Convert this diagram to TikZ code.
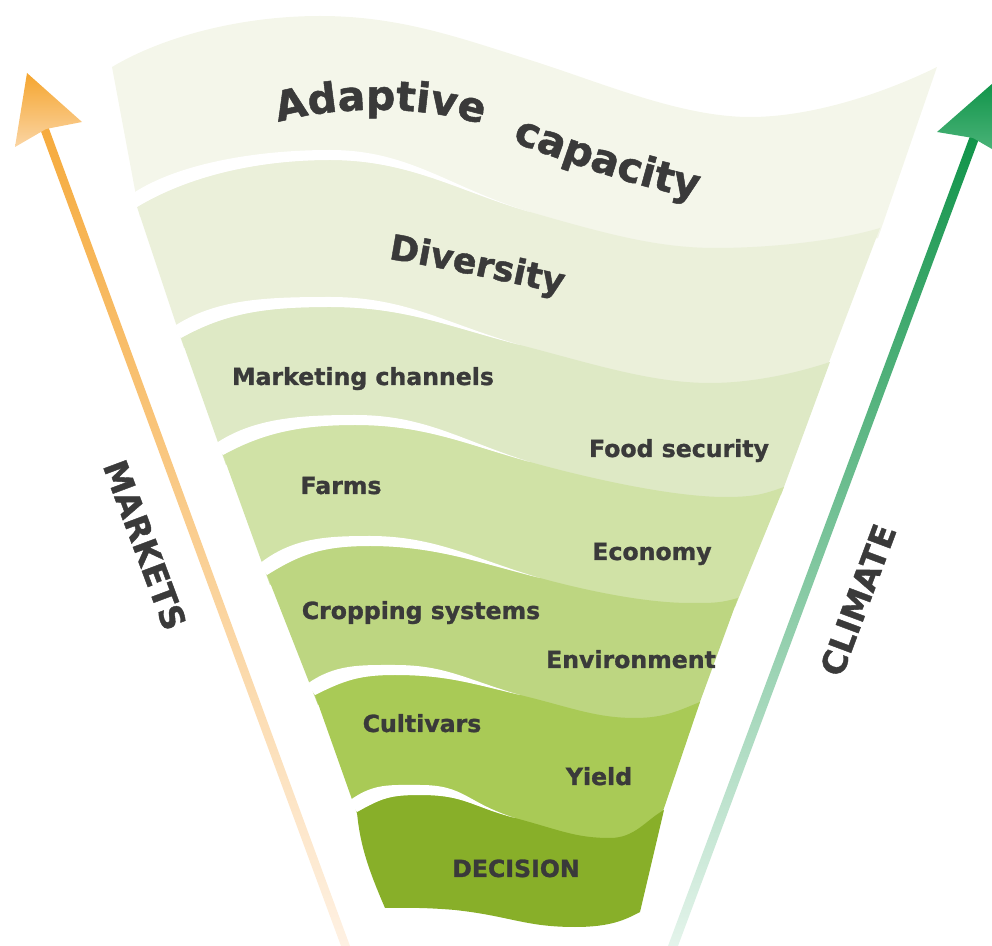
\documentclass[tikz,border=0pt]{standalone}
\usepackage{fontspec}
\setmainfont{DejaVu Sans}[BoldFeatures={FakeBold=1.2}]
\usepackage{tikz}
\usetikzlibrary{decorations.text}

\definecolor{ink}{HTML}{3A3A3A}
\definecolor{bandA}{HTML}{F4F6EA}
\definecolor{bandB}{HTML}{EBF0DA}
\definecolor{bandC}{HTML}{DEE9C5}
\definecolor{bandD}{HTML}{D0E2A6}
\definecolor{bandE}{HTML}{BDD681}
\definecolor{bandF}{HTML}{A9CA56}
\definecolor{bandG}{HTML}{88AF29}
\definecolor{mktDeep}{HTML}{F5A52E}
\definecolor{mktMid}{HTML}{F8C27A}
\definecolor{mktPale}{HTML}{FEF1E3}
\definecolor{cliDeep}{HTML}{11944A}
\definecolor{cliMid}{HTML}{4FB67C}
\definecolor{cliPale}{HTML}{E4F4EB}

\tikzstyle{bandtext}=[font=\fontsize{11.8}{13}\selectfont\bfseries,text=ink,
                      inner sep=0pt,anchor=base]
\tikzstyle{sidetext}=[font=\fontsize{16.5}{18}\selectfont\bfseries,text=ink,
                      inner sep=0pt]
\tikzstyle{whitegap}=[fill=white]
\newcommand{\bigcurve}{\fontsize{20.5}{22}\selectfont\bfseries\color{ink}}
\newcommand{\smallcurve}{\fontsize{17.5}{19}\selectfont\bfseries\color{ink}}

\begin{document}
\begin{tikzpicture}[x=0.5pt,y=-0.5pt]
  \useasboundingbox (0,0) rectangle (992,946);
  \clip (0,0) rectangle (992,946);

  % bands, top to bottom
  \fill[bandA] (112,67) .. controls +(50,-30) and +(-80,0) .. (320,16)
    .. controls +(80,0) and +(-70,-22) .. (530,60)
    .. controls +(70,22) and +(-70,0) .. (750,117)
    .. controls +(70,0) and +(-40,20) .. (937,67)
    -- (878,238)
    .. controls +(-20,5) and +(40,0) .. (715,278)
    .. controls +(-90,0) and +(80,0) .. (330,190)
    .. controls +(-40,0) and +(15,-12) .. (140,217) -- cycle;

  \fill[bandB] (137,207) .. controls +(50,-30) and +(-75,0) .. (330,160)
    .. controls +(80,0) and +(-70,-20) .. (530,212)
    .. controls +(70,20) and +(-60,0) .. (715,248)
    .. controls +(60,0) and +(-40,12) .. (880,228)
    -- (826,370)
    .. controls +(-20,5) and +(40,0) .. (710,413)
    .. controls +(-90,0) and +(80,0) .. (330,337)
    .. controls +(-40,0) and +(15,-12) .. (184,348) -- cycle;
  \path[whitegap] (137,207) .. controls +(50,-30) and +(-75,0) .. (330,160)
    .. controls +(80,0) and +(-70,-20) .. (530,212)
    .. controls +(-80,-24) and +(80,0) .. (330,150)
    .. controls +(-75,0) and +(45,-32) .. (129,196) -- cycle;

  \fill[bandC] (181,338) .. controls +(45,-25) and +(-65,0) .. (330,307)
    .. controls +(75,0) and +(-70,-18) .. (520,345)
    .. controls +(70,18) and +(-60,0) .. (710,383)
    .. controls +(45,0) and +(-30,10) .. (830,362)
    -- (781,495)
    .. controls +(-20,5) and +(30,0) .. (725,527)
    .. controls +(-90,0) and +(70,0) .. (355,455)
    .. controls +(-40,0) and +(15,-12) .. (226,465) -- cycle;
  \path[whitegap] (181,338) .. controls +(45,-25) and +(-65,0) .. (330,307)
    .. controls +(75,0) and +(-70,-18) .. (520,345)
    .. controls +(-75,-22) and +(75,0) .. (330,297)
    .. controls +(-65,0) and +(42,-28) .. (173,327) -- cycle;

  \fill[bandD] (223,455) .. controls +(40,-22) and +(-55,0) .. (355,425)
    .. controls +(70,0) and +(-65,-18) .. (530,462)
    .. controls +(65,18) and +(-50,0) .. (725,497)
    .. controls +(30,0) and +(-20,7) .. (784,487)
    -- (735,607)
    .. controls +(-15,5) and +(25,0) .. (690,633)
    .. controls +(-90,0) and +(60,0) .. (370,576)
    .. controls +(-40,0) and +(15,-12) .. (270,585) -- cycle;
  \path[whitegap] (223,455) .. controls +(40,-22) and +(-55,0) .. (355,425)
    .. controls +(70,0) and +(-65,-18) .. (530,462)
    .. controls +(-70,-22) and +(70,0) .. (355,415)
    .. controls +(-55,0) and +(38,-26) .. (215,444) -- cycle;

  \fill[bandE] (267,575) .. controls +(35,-22) and +(-45,0) .. (370,546)
    .. controls +(65,0) and +(-60,-15) .. (540,578)
    .. controls +(55,15) and +(-40,0) .. (690,603)
    .. controls +(25,0) and +(-18,5) .. (738,598)
    -- (697,710)
    .. controls +(-15,5) and +(25,0) .. (635,748)
    .. controls +(-80,0) and +(50,0) .. (395,705)
    .. controls +(-35,0) and +(12,-10) .. (318,705) -- cycle;
  \path[whitegap] (267,575) .. controls +(35,-22) and +(-45,0) .. (370,546)
    .. controls +(65,0) and +(-60,-15) .. (540,578)
    .. controls +(-65,-19) and +(65,0) .. (370,536)
    .. controls +(-45,0) and +(33,-26) .. (259,564) -- cycle;

  \fill[bandF] (315,695) .. controls +(30,-15) and +(-35,0) .. (395,675)
    .. controls +(50,0) and +(-50,-12) .. (520,695)
    .. controls +(50,12) and +(-40,0) .. (635,718)
    .. controls +(30,0) and +(-20,8) .. (700,702)
    -- (660,820)
    .. controls +(-15,5) and +(25,0) .. (610,866)
    .. controls +(-80,0) and +(45,0) .. (420,825)
    .. controls +(-30,0) and +(10,-8) .. (360,822) -- cycle;
  \path[whitegap] (315,695) .. controls +(30,-15) and +(-35,0) .. (395,675)
    .. controls +(50,0) and +(-50,-12) .. (520,695)
    .. controls +(-55,-16) and +(50,0) .. (395,665)
    .. controls +(-35,0) and +(28,-20) .. (307,684) -- cycle;

  \fill[bandG] (357,812) .. controls +(25,-14) and +(-30,0) .. (420,795)
    .. controls +(45,0) and +(-45,-12) .. (515,818)
    .. controls +(45,12) and +(-35,0) .. (610,838)
    .. controls +(25,0) and +(-18,10) .. (664,810)
    -- (640,912)
    .. controls +(-15,8) and +(35,0) .. (575,927)
    .. controls +(-50,0) and +(55,6) .. (455,910)
    .. controls +(-35,-3) and +(15,0) .. (385,908)
    .. controls +(-15,-35) and +(3,35) .. (357,812) -- cycle;
  \path[whitegap] (357,812) .. controls +(25,-14) and +(-30,0) .. (420,795)
    .. controls +(45,0) and +(-45,-12) .. (515,818)
    .. controls +(-50,-16) and +(45,0) .. (420,785)
    .. controls +(-30,0) and +(24,-18) .. (349,801) -- cycle;

  % curved titles
  \path[decorate,decoration={text along path,text align=center,
        text={|\bigcurve|Adaptive}}]
    (250,132) .. controls (320,102) and (440,102) .. (510,135);
  \path[decorate,decoration={text along path,text align=center,
        text={|\bigcurve|capacity}}]
    (490,133) .. controls (560,160) and (640,190) .. (720,203);
  \path[decorate,decoration={text along path,text align=center,
        text={|\smallcurve|Diversity}}]
    (360,255) .. controls (420,262) and (520,285) .. (590,300);

  \node[bandtext] (marketing) at (363,385) {Marketing channels};
  \node[bandtext] (food)      at (679,457) {Food security};
  \node[bandtext] (farms)     at (341,494) {Farms};
  \node[bandtext] (economy)   at (652,560) {Economy};
  \node[bandtext] (cropping)  at (421,619) {Cropping systems};
  \node[bandtext] (environ)   at (631,668) {Environment};
  \node[bandtext] (cultivars) at (422,732) {Cultivars};
  \node[bandtext] (yield)     at (599,785) {Yield};
  \node[bandtext] (decision)  at (516,877) {DECISION};

  % side arrows
  \coordinate (mkt-tip)   at (27,73);
  \coordinate (mkt-notch) at (46,129);
  \coordinate (cli-tip)   at (993,83);
  \coordinate (cli-notch) at (973,138);

  \shade[top color=mktDeep!80!mktMid, middle color=mktMid, bottom color=mktPale]
    (39,126) -- (48,126) -- (350,946) -- (341,946) -- cycle;
  \shade[top color=mktDeep, bottom color=mktMid!60!mktPale]
    (mkt-tip) -- (82,122) -- (mkt-notch) -- (15,147) -- cycle;

  \shade[top color=cliDeep, middle color=cliMid, bottom color=cliPale]
    (970,136) -- (980,136) -- (678,946) -- (668,946) -- cycle;
  \shade[top color=cliDeep, bottom color=cliMid]
    (cli-tip) -- (1004,156) -- (cli-notch) -- (937,132) -- cycle;

  \node[sidetext,rotate=-69.5] (markets) at (145,545) {MARKETS};
  \node[sidetext,rotate=69.5]  (climate) at (858,600) {CLIMATE};
\end{tikzpicture}
\end{document}
